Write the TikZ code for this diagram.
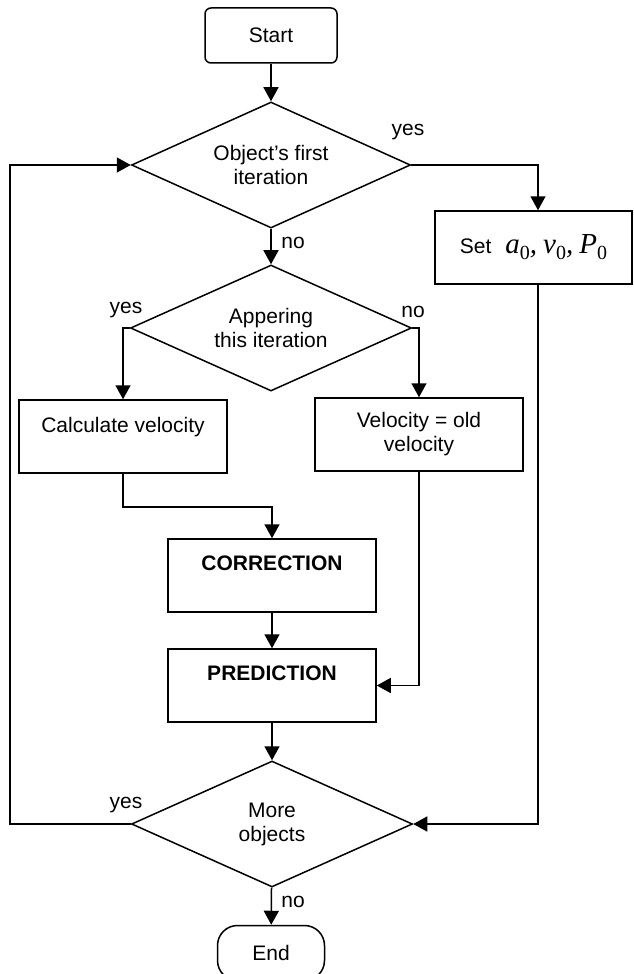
\documentclass[tikz,border=0pt]{standalone}
\usepackage{fontspec}
\setmainfont{Liberation Sans}
\newfontfamily\tmsfont{Liberation Serif}
\usetikzlibrary{shapes.geometric,arrows.meta}

% italic symbol with an upright zero subscript
\newcommand\zsub{\raisebox{-6pt}{\upshape\fontsize{20}{20}\selectfont 0}}

\tikzset{
  arr/.style={-{Triangle[length=14pt,width=15pt]}},
  flowbox/.style={draw, rectangle, minimum width=208pt, minimum height=73pt,
    inner sep=0pt, align=center},
  decision/.style={draw, diamond, aspect=2.22, minimum width=280pt, minimum height=126pt,
    inner sep=0pt, align=center},
  terminal/.style={draw, rectangle, minimum height=55pt, inner sep=0pt},
  lbl/.style={inner sep=0pt}
}

\begin{document}
\begin{tikzpicture}[x=1pt, y=-1pt, line width=1.5pt,
  font=\fontsize{21}{24}\selectfont]
\useasboundingbox (0,0) rectangle (633,974);

% terminals, decisions and process boxes
\node[terminal, rounded corners=6pt, minimum width=132pt] (start) at (271,35.5) {Start};
\node[decision, minimum width=279pt] (d1) at (271,165) {Object’s first\\iteration};
\node[flowbox, minimum width=197pt] (setbox) at (533.5,247.5)
  {Set\hspace{14pt}{\tmsfont\fontsize{29}{29}\selectfont\itshape
   a\zsub,\hspace{6pt}v\zsub,\hspace{6pt}P\zsub}};
\node[decision, minimum width=281pt] (d2) at (271,328) {Appering\\this iteration};
\node[flowbox] (calc) at (123,436.5) {Calculate velocity\\\mbox{}};
\node[flowbox] (vel) at (419,434.5) {Velocity = old\\velocity};
\node[flowbox, font=\fontsize{21}{24}\selectfont\bfseries] (corr) at (272,575.5) {CORRECTION\\\mbox{}};
\node[flowbox, font=\fontsize{21}{24}\selectfont\bfseries] (pred) at (272,685.5) {PREDICTION\\\mbox{}};
\node[decision, minimum width=281pt] (d3) at (272,824) {More\\objects};
\node[terminal, rounded corners=20pt, minimum width=107pt] (stop) at (271,953) {End};

% branch labels
\node[lbl] (yes1) at (408,132) {yes};
\node[lbl] (no1) at (293,243) {no};
\node[lbl] (yes2) at (126,310) {yes};
\node[lbl] (no2) at (413,312) {no};
\node[lbl] (yes3) at (126,805) {yes};
\node[lbl] (no3) at (293,902) {no};

% connectors
\draw[arr] (start) -- (d1);
\draw[arr] (d1) -- (d2);
\draw[arr] (d1.east) -| ([xshift=4.5pt]setbox.north);
\draw[arr] (d2.west) -| (calc.north);
\draw[arr] (d2.east) -| (vel.north);
\draw[arr] (calc.south) -- ++(0,33) -| (corr.north);
\draw[arr] (corr) -- (pred);
\draw[arr] (vel.south) |- (pred.east);
\draw[arr] (pred) -- (d3);
\draw[arr] ([xshift=4.5pt]setbox.south) |- (d3.east);
\draw[arr] (d3.west) -- ++(-121,0) |- (d1.west);
\draw[arr] (d3) -- (stop);
\end{tikzpicture}
\end{document}
